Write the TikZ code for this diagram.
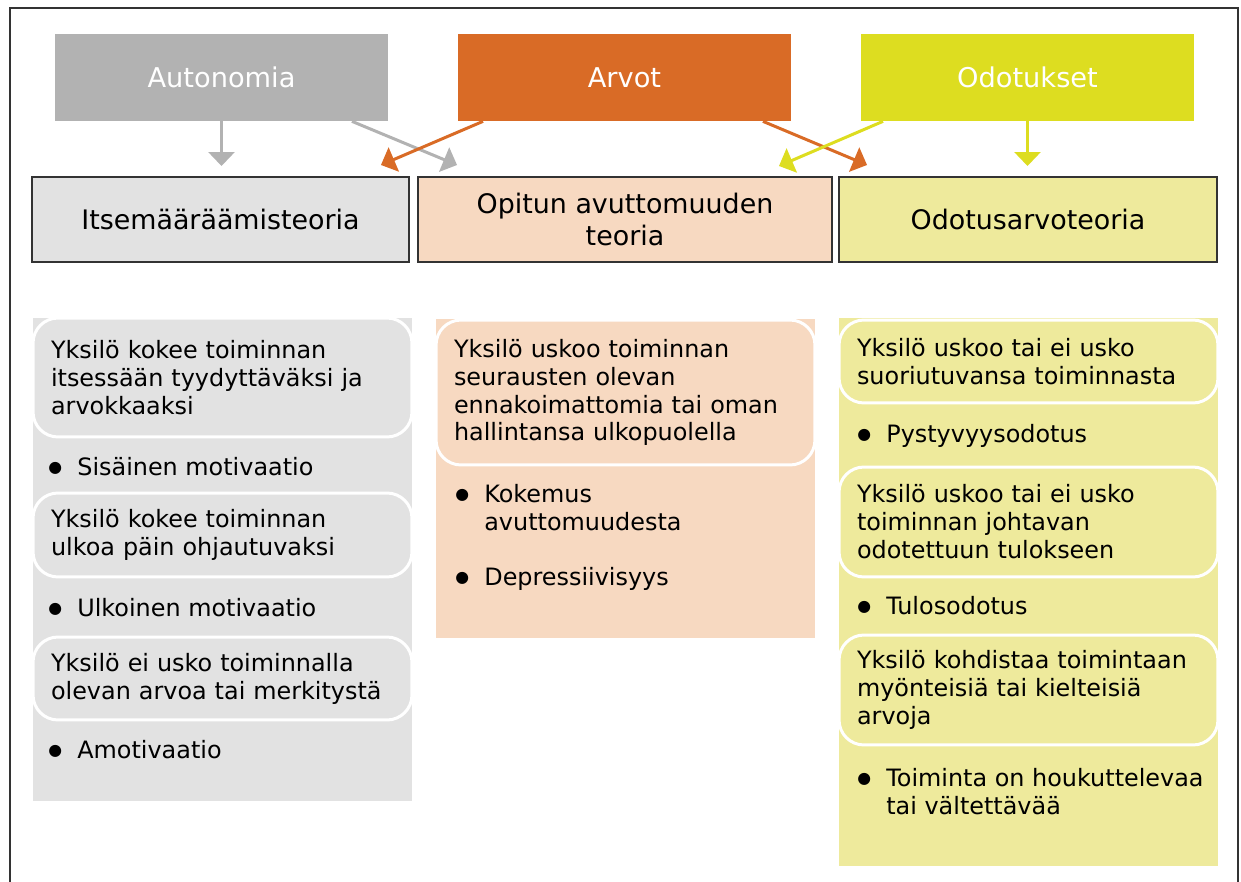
\documentclass[tikz,border=0pt]{standalone}
\usepackage{fontspec}
\setmainfont{DejaVu Sans}
\usetikzlibrary{arrows.meta,calc}

\definecolor{autgray}{HTML}{B2B2B2}
\definecolor{arvorange}{HTML}{D96B26}
\definecolor{odoyellow}{HTML}{DDDD20}
\definecolor{lgray}{HTML}{E2E2E2}
\definecolor{lpeach}{HTML}{F7D9C1}
\definecolor{lyellow}{HTML}{EEEA9C}
\definecolor{framegray}{HTML}{333333}

\newcommand{\bul}{\makebox[0.58cm][l]{\raisebox{1.8pt}{\fontsize{9}{9}\selectfont ●}}}

\tikzset{
	topbox/.style={minimum width=6.66cm, minimum height=1.74cm, inner sep=0pt, text=white, font=\fontsize{15.5}{18}\selectfont},
	theorybox/.style={draw=framegray, line width=0.04cm, minimum height=1.7cm, inner sep=0pt, align=center, font=\fontsize{15.3}{18}\selectfont},
	card/.style={draw=white, line width=0.06cm, rounded corners=0.5cm, minimum width=7.58cm, text width=6.86cm, inner xsep=0.36cm, inner ysep=0.1cm, align=left, font=\fontsize{13.6}{15.9}\selectfont},
	bitem/.style={anchor=west, align=left, inner sep=0pt, font=\fontsize{13.6}{15.9}\selectfont},
	link/.style={line width=0.06cm, -{Triangle[width=0.52cm,length=0.28cm]}},
}

\begin{document}
\begin{tikzpicture}[x=0.02cm, y=-0.02cm]
\useasboundingbox (0,0) rectangle (1241,882);
\draw[framegray, line width=0.05cm] (10,900) -- (10,8) -- (1238,8) -- (1238,900);

\node[topbox, fill=autgray] (aut) at (221.5,77.5) {Autonomia};
\node[topbox, fill=arvorange] (arv) at (624.5,77.5) {Arvot};
\node[topbox, fill=odoyellow] (odo) at (1027.5,77.5) {Odotukset};

\node[theorybox, fill=lgray, minimum width=7.54cm] (itse) at (220.5,219.5) {Itsemääräämisteoria};
\node[theorybox, fill=lpeach, minimum width=8.28cm] (opit) at (625,219.5) {Opitun avuttomuuden\\teoria};
\node[theorybox, fill=lyellow, minimum width=7.56cm] (odot) at (1028,219.5) {Odotusarvoteoria};

\coordinate (itse in) at ([yshift=0.2cm]itse.north);
\coordinate (itse arv) at ([xshift=-0.58cm,yshift=0.22cm]itse.north east);
\coordinate (opit aut) at ([xshift=0.8cm,yshift=0.22cm]opit.north west);
\coordinate (opit odo) at ([xshift=-1.08cm,yshift=0.2cm]opit.north east);
\coordinate (odot arv) at ([xshift=0.58cm,yshift=0.22cm]odot.north west);
\coordinate (odot in) at ([yshift=0.2cm]odot.north);

\draw[link, autgray] (aut.south) -- (aut.south |- itse in);
\draw[link, autgray] ([xshift=2.61cm]aut.south) -- (opit aut);
\draw[link, arvorange] ([xshift=-2.83cm]arv.south) -- (itse arv);
\draw[link, arvorange] ([xshift=2.77cm]arv.south) -- (odot arv);
\draw[link, odoyellow] ([xshift=-2.89cm]odo.south) -- (opit odo);
\draw[link, odoyellow] (odo.south) -- (odo.south |- odot in);

% lower panels
\fill[lgray] (33,318) rectangle (412,801);
\fill[lpeach] (436,319) rectangle (815,638);
\fill[lyellow] (839,318) rectangle (1218,866);

\node[card, fill=lgray, minimum height=2.38cm] (l1) at (222.5,377.5) {Yksilö kokee toiminnan\\itsessään tyydyttäväksi ja\\arvokkaaksi};
\node[card, fill=lgray, minimum height=1.68cm] (l2) at (222.5,535) {Yksilö kokee toiminnan\\ulkoa päin ohjautuvaksi};
\node[card, fill=lgray, minimum height=1.66cm] (l3) at (222.5,678.5) {Yksilö ei usko toiminnalla\\olevan arvoa tai merkitystä};
\node[bitem] (l1b) at (48,467) {\bul Sisäinen motivaatio};
\node[bitem] (l2b) at (48,608) {\bul Ulkoinen motivaatio};
\node[bitem] (l3b) at (48,750) {\bul Amotivaatio};

\node[card, fill=lpeach, minimum height=2.9cm] (m1) at (625.5,392.5) {Yksilö uskoo toiminnan\\seurausten olevan\\ennakoimattomia tai oman\\hallintansa ulkopuolella};
\node[bitem] (m1b) at (455,508) {\bul Kokemus\\\hspace*{0.58cm}avuttomuudesta};
\node[bitem] (m2b) at (455,579) {\bul Depressiivisyys};

\node[card, fill=lyellow, minimum height=1.66cm] (r1) at (1028.5,361.5) {Yksilö uskoo tai ei usko\\suoriutuvansa toiminnasta};
\node[card, fill=lyellow, minimum height=2.2cm] (r2) at (1028.5,522) {Yksilö uskoo tai ei usko\\toiminnan johtavan\\odotettuun tulokseen};
\node[card, fill=lyellow, minimum height=2.2cm] (r3) at (1028.5,690) {Yksilö kohdistaa toimintaan\\myönteisiä tai kielteisiä\\arvoja};
\node[bitem] (r1b) at (857,436) {\bul Pystyvyysodotus};
\node[bitem] (r2b) at (857,606) {\bul Tulosodotus};
\node[bitem] (r3b) at (857,792) {\bul Toiminta on houkuttelevaa\\\hspace*{0.58cm}tai vältettävää};
\end{tikzpicture}
\end{document}
